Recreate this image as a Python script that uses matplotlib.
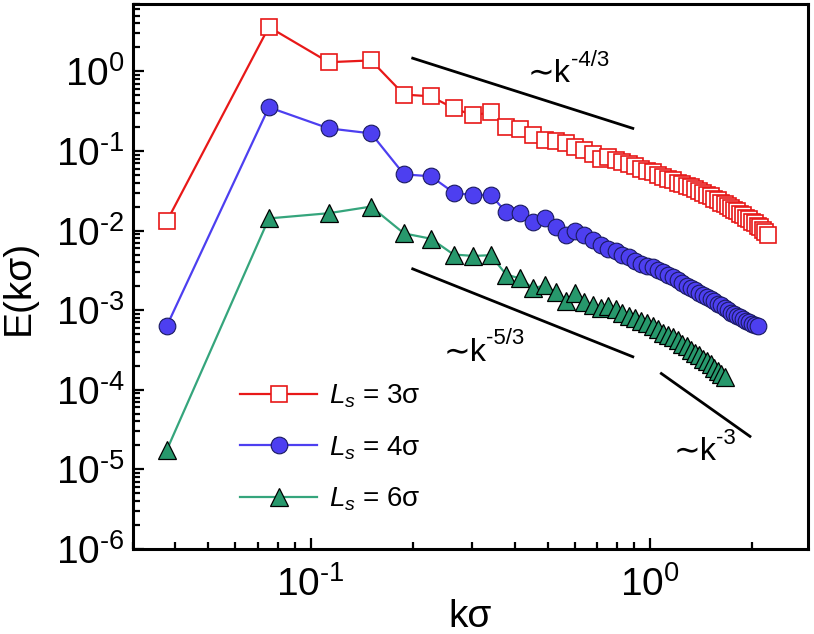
import numpy as np
import matplotlib
matplotlib.use("Agg")
import matplotlib.pyplot as plt
from matplotlib.ticker import LogLocator, FuncFormatter, NullFormatter

plt.rcParams['font.family'] = ['Liberation Sans', 'DejaVu Sans']
plt.rcParams['mathtext.fontset'] = 'custom'
plt.rcParams['mathtext.rm'] = 'Liberation Sans'
plt.rcParams['mathtext.it'] = 'Liberation Sans:italic'
plt.rcParams['mathtext.bf'] = 'Liberation Sans:bold'

# wavenumbers k*sigma (shell index n = 1..59, spacing ~0.0377)
k_vals = [0.0377, 0.0754, 0.1131, 0.1508, 0.1885, 0.2262, 0.2639, 0.3016, 0.3393, 0.3770,
          0.4147, 0.4524, 0.4901, 0.5278, 0.5655, 0.6032, 0.6409, 0.6786, 0.7163, 0.7540,
          0.7917, 0.8294, 0.8671, 0.9048, 0.9425, 0.9802, 1.0179, 1.0556, 1.0933, 1.1310,
          1.1687, 1.2064, 1.2441, 1.2818, 1.3195, 1.3572, 1.3949, 1.4326, 1.4703, 1.5080,
          1.5457, 1.5834, 1.6211, 1.6588, 1.6965, 1.7342, 1.7719, 1.8096, 1.8473, 1.8850,
          1.9227, 1.9604, 1.9981, 2.0358, 2.0735, 2.1112, 2.1489, 2.1866, 2.2243]

# Ls = 3 sigma
E_ls3 = [0.013, 3.6, 1.30, 1.37, 0.51, 0.485, 0.343, 0.28, 0.305, 0.198,
         0.19, 0.157, 0.136, 0.132, 0.126, 0.112, 0.102, 0.091, 0.079, 0.083,
         0.076, 0.072, 0.068, 0.065, 0.060, 0.056, 0.054, 0.050, 0.047, 0.045,
         0.043, 0.040, 0.038, 0.036, 0.035, 0.033, 0.031, 0.030, 0.028, 0.027,
         0.025, 0.024, 0.0224, 0.0214, 0.0204, 0.0191, 0.0182, 0.0174, 0.0162, 0.0155,
         0.0145, 0.0138, 0.0129, 0.0123, 0.0115, 0.0110, 0.0102, 0.0096, 0.0089]

# Ls = 4 sigma
E_ls4 = [6.3e-4, 0.353, 0.192, 0.166, 0.0508, 0.048, 0.030, 0.0276, 0.028, 0.017,
         0.0165, 0.0127, 0.0142, 0.011, 0.0087, 0.010, 0.0087, 0.0075, 0.0065, 0.0059,
         0.0055, 0.0050, 0.0046, 0.0042, 0.0038, 0.00355, 0.00347, 0.00324, 0.0030, 0.0028,
         0.0026, 0.0024, 0.0022, 0.0020, 0.0019, 0.00178, 0.00166, 0.00155, 0.00145, 0.00138,
         0.00129, 0.0012, 0.00115, 0.00107, 0.0010, 0.00093, 0.00089, 0.00085, 0.00081, 0.00078,
         0.00074, 0.00071, 0.00068, 0.00066, 0.00063]

# Ls = 6 sigma
E_ls6 = [1.74e-5, 0.0142, 0.0165, 0.020, 0.0092, 0.0079, 0.0050, 0.0048, 0.0049, 0.0028,
         0.0025, 0.00188, 0.00205, 0.00167, 0.00132, 0.00163, 0.00126, 0.00115, 0.00105, 0.00112,
         0.00102, 0.00093, 0.00085, 0.00079, 0.00074, 0.00069, 0.00063, 0.00058, 0.00052, 0.00049,
         0.00046, 0.00042, 0.00038, 0.00035, 0.00032, 0.00029, 0.00027, 0.000245, 0.00023, 0.00021,
         0.00019, 0.000174, 0.000158, 0.000145]

# power-law guide lines (end points)
guide_43_k = [0.2, 0.89]
guide_43_E = [1.46, 0.192]
guide_53_k = [0.2, 0.89]
guide_53_E = [0.0033, 2.6e-4]
guide_3_k = [1.08, 1.97]
guide_3_E = [1.6e-4, 2.6e-5]

fig = plt.figure(figsize=(8.14, 6.34), dpi=100)
ax = fig.add_axes([0.1634, 0.134, 0.8292, 0.8597])

ax.plot(k_vals[:len(E_ls3)], E_ls3, '-s', color='#e81818', lw=1.6, ms=11,
        mfc='white', mec='#e81818', mew=1.2, label=r'$L_s$ = 3σ', zorder=3)
ax.plot(k_vals[:len(E_ls4)], E_ls4, '-o', color='#4d3ff0', lw=1.6, ms=12,
        mfc='#4d3ff0', mec='#1a1a60', mew=0.8, label=r'$L_s$ = 4σ', zorder=3)
ax.plot(k_vals[:len(E_ls6)], E_ls6, '-^', color='#35a57c', lw=1.6, ms=13,
        mfc='#27986c', mec='black', mew=0.9, label=r'$L_s$ = 6σ', zorder=3)

ax.plot(guide_43_k, guide_43_E, color='black', lw=2)
ax.plot(guide_53_k, guide_53_E, color='black', lw=2)
ax.plot(guide_3_k, guide_3_E, color='black', lw=2)

# slope labels: "∼k" plus a separate superscript exponent
def slope_label(x, y, expo):
    t = ax.text(x, y, '∼k', fontsize=23, va='baseline')
    ax.annotate(expo, xy=(1.0, 0.62), xycoords=t, fontsize=16,
                va='bottom', ha='left')

slope_label(0.437, 0.73, '-4/3')
slope_label(0.246, 2.3e-4, '-5/3')
slope_label(1.17, 1.3e-5, '-3')

ax.set_xscale('log')
ax.set_yscale('log')
ax.set_xlim(0.03, 2.92)
ax.set_ylim(1e-6, 7)

def pow_fmt(v, pos):
    e = int(round(np.log10(v)))
    return r'10$^{\text{%d}}$' % e

ax.xaxis.set_major_locator(LogLocator(base=10, numticks=10))
ax.yaxis.set_major_locator(LogLocator(base=10, numticks=10))
ax.xaxis.set_minor_locator(LogLocator(base=10, subs=np.arange(2, 10), numticks=20))
ax.yaxis.set_minor_locator(LogLocator(base=10, subs=np.arange(2, 10), numticks=20))
ax.xaxis.set_major_formatter(FuncFormatter(pow_fmt))
ax.yaxis.set_major_formatter(FuncFormatter(pow_fmt))
ax.xaxis.set_minor_formatter(NullFormatter())
ax.yaxis.set_minor_formatter(NullFormatter())

ax.tick_params(which='both', direction='in', top=False, right=False, width=1.6, labelsize=28)
ax.tick_params(which='major', length=8)
ax.tick_params(which='minor', length=5)
ax.tick_params(axis='x', pad=12)
ax.tick_params(axis='y', pad=6)
for s in ax.spines.values():
    s.set_linewidth(2.2)

ax.set_xlabel('kσ', fontsize=28, labelpad=-3)
ax.set_ylabel('E(kσ)', fontsize=28)
ax.yaxis.set_label_coords(-0.142, 0.48)

ax.legend(loc='upper left', bbox_to_anchor=(0.158, 0.305), frameon=False, fontsize=20,
          handlelength=2.8, handletextpad=0.4, labelspacing=0.86, borderpad=0,
          borderaxespad=0, numpoints=1)

fig.savefig('out.png', dpi=100)
